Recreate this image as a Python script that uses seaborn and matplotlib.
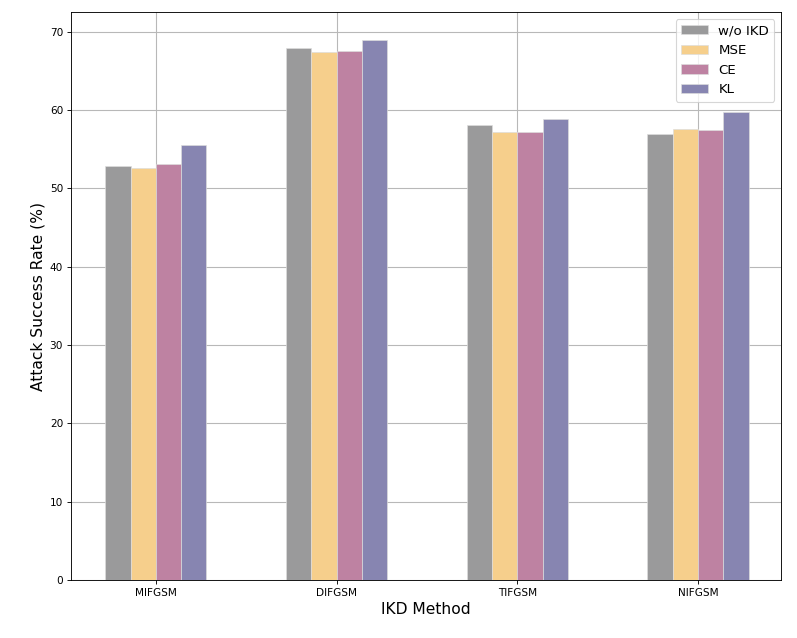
import matplotlib
matplotlib.use("Agg")
import matplotlib.pyplot as plt
import seaborn as sns
import pandas as pd

categories = ["MIFGSM", "DIFGSM", "TIFGSM", "NIFGSM"]
methods = ["w/o IKD", "MSE", "CE", "KL"]
wo_ikd = [52.9, 67.9, 58.1, 57.0]
mse = [52.6, 67.4, 57.2, 57.6]
ce = [53.1, 67.6, 57.2, 57.5]
kl = [55.6, 69.0, 58.9, 59.8]
colors = ["#9a9a9b", "#f6cf8c", "#be82a2", "#8785b1"]

rows = []
for m, vals in zip(methods, [wo_ikd, mse, ce, kl]):
    for c, v in zip(categories, vals):
        rows.append({"cat": c, "method": m, "val": v})
df = pd.DataFrame(rows)

sns.set_style("white")
plt.rcParams['font.family'] = ['DejaVu Sans']
for k in ["text.color", "axes.labelcolor", "xtick.color", "ytick.color"]:
    plt.rcParams[k] = "black"
fig = plt.figure(figsize=(797/80, 638/80), dpi=80)
ax = fig.add_axes([0.089, 0.0909, 0.891, 0.890])
sns.barplot(data=df, x="cat", y="val", hue="method", order=categories,
            hue_order=methods, palette=colors, width=0.56, gap=0,
            saturation=1, edgecolor="#dddddd", linewidth=0.6, ax=ax)
ax.set_axisbelow(True)
ax.grid(True, color="#b8b8b8", linewidth=1)
ax.set_xlim(-0.47, 3.46)
ax.set_ylim(0, 72.5)
ax.set_xlabel("IKD Method", fontsize=14)
ax.set_ylabel("Attack Success Rate (%)", fontsize=14)
ax.tick_params(axis="y", labelsize=9.5, length=3.5, left=True)
ax.tick_params(axis="x", labelsize=9.5, length=3.5, bottom=True)
for s in ax.spines.values():
    s.set_color("black")
    s.set_linewidth(0.8)
ax.legend(loc="upper right", fontsize=12, title=None, framealpha=0.8)
fig.savefig("out.png", dpi=80)
